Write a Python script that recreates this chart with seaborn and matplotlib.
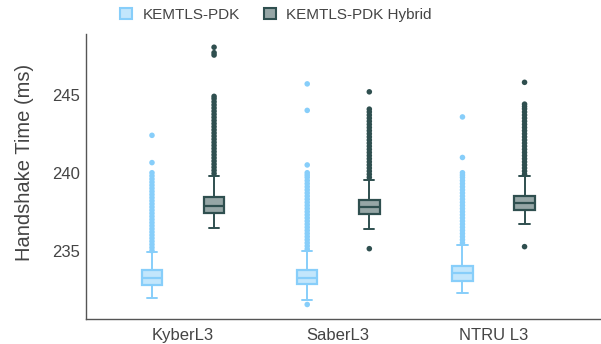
import numpy as np
import pandas as pd
import matplotlib
matplotlib.use("Agg")
import matplotlib.pyplot as plt
from matplotlib.patches import Patch
import seaborn as sns

# ---------------- data ----------------
categories = ["KyberL3", "SaberL3", "NTRU L3"]
series = ["KEMTLS-PDK", "KEMTLS-PDK Hybrid"]

# box summaries: [lower whisker, Q1, median, Q3, upper whisker]
kyber_pdk_box = [231.96, 232.80, 233.24, 233.74, 234.90]
kyber_hyb_box = [236.48, 237.42, 237.87, 238.45, 239.80]
saber_pdk_box = [231.81, 232.88, 233.27, 233.78, 234.98]
saber_hyb_box = [236.42, 237.33, 237.83, 238.25, 239.52]
ntru_pdk_box = [232.26, 233.05, 233.55, 234.01, 235.36]
ntru_hyb_box = [236.69, 237.59, 238.04, 238.49, 239.76]

# outlier points
kyber_pdk_out = [235.0, 235.2, 235.4, 235.6, 235.8, 236.0, 236.2, 236.4, 236.6, 236.8,
                 237.0, 237.2, 237.4, 237.6, 237.8, 238.0, 238.2, 238.4, 238.6, 238.8,
                 239.0, 239.2, 239.4, 239.6, 239.8, 240.0, 240.65, 242.4]
kyber_hyb_out = [239.95, 240.15, 240.35, 240.55, 240.75, 240.95, 241.15, 241.35, 241.55,
                 241.75, 241.95, 242.15, 242.35, 242.55, 242.75, 242.95, 243.15, 243.35,
                 243.55, 243.75, 243.95, 244.15, 244.35, 244.55, 244.75, 244.9,
                 247.55, 247.7, 248.05]
saber_pdk_out = [231.55, 235.1, 235.3, 235.5, 235.7, 235.9, 236.1, 236.3, 236.5, 236.7,
                 236.9, 237.1, 237.3, 237.5, 237.7, 237.9, 238.1, 238.3, 238.5, 238.7,
                 238.9, 239.1, 239.3, 239.5, 239.7, 239.85, 240.0, 240.5, 244.0, 245.7]
saber_hyb_out = [235.13, 239.7, 239.9, 240.1, 240.3, 240.5, 240.7, 240.9, 241.1, 241.3,
                 241.5, 241.7, 241.9, 242.1, 242.3, 242.5, 242.7, 242.9, 243.1, 243.3,
                 243.5, 243.7, 243.9, 244.08, 245.19]
ntru_pdk_out = [235.5, 235.7, 235.9, 236.1, 236.3, 236.5, 236.7, 236.9, 237.1, 237.3,
                237.5, 237.7, 237.9, 238.1, 238.3, 238.5, 238.7, 238.9, 239.1, 239.3,
                239.5, 239.7, 239.85, 240.0, 240.98, 243.58]
ntru_hyb_out = [235.26, 239.9, 240.1, 240.3, 240.5, 240.7, 240.9, 241.1, 241.3, 241.5,
                241.7, 241.9, 242.1, 242.3, 242.5, 242.7, 242.9, 243.1, 243.3, 243.5,
                243.7, 243.9, 244.1, 244.25, 244.4, 245.8]

y_ticks = [235, 240, 245]
y_label = "Handshake Time (ms)"

colors = {"KEMTLS-PDK": "#87CEFA", "KEMTLS-PDK Hybrid": "#2F4F4F"}

# ---------------- tables ----------------
box_sets = {
    ("KyberL3", "KEMTLS-PDK"): kyber_pdk_box,
    ("KyberL3", "KEMTLS-PDK Hybrid"): kyber_hyb_box,
    ("SaberL3", "KEMTLS-PDK"): saber_pdk_box,
    ("SaberL3", "KEMTLS-PDK Hybrid"): saber_hyb_box,
    ("NTRU L3", "KEMTLS-PDK"): ntru_pdk_box,
    ("NTRU L3", "KEMTLS-PDK Hybrid"): ntru_hyb_box,
}
out_sets = {
    ("KyberL3", "KEMTLS-PDK"): kyber_pdk_out,
    ("KyberL3", "KEMTLS-PDK Hybrid"): kyber_hyb_out,
    ("SaberL3", "KEMTLS-PDK"): saber_pdk_out,
    ("SaberL3", "KEMTLS-PDK Hybrid"): saber_hyb_out,
    ("NTRU L3", "KEMTLS-PDK"): ntru_pdk_out,
    ("NTRU L3", "KEMTLS-PDK Hybrid"): ntru_hyb_out,
}
box_df = pd.DataFrame([(c, s, v) for (c, s), vals in box_sets.items() for v in vals],
                      columns=["scheme", "mode", "time"])
out_df = pd.DataFrame([(c, s, v) for (c, s), vals in out_sets.items() for v in vals],
                      columns=["scheme", "mode", "time"])

# ---------------- plot ----------------
sns.set_theme(style="white")
plt.rcParams["font.family"] = ["Liberation Sans", "DejaVu Sans"]

text_col = "#444444"
fig = plt.figure(figsize=(6.01, 3.44), dpi=100)
ax = fig.add_axes([0.1431, 0.0718, 0.8555, 0.8294])

for s in series:
    c = colors[s]
    face = matplotlib.colors.to_rgba(c, 0.5)
    sns.boxplot(data=box_df[box_df["mode"] == s], x="scheme", y="time", hue="mode",
                order=categories, hue_order=series, palette=colors, dodge=True,
                whis=(0, 100), showfliers=False, width=0.8, gap=0.67,
                saturation=1, linewidth=1.5, linecolor=c, legend=False, ax=ax,
                boxprops=dict(facecolor=face, edgecolor=c, linewidth=1.6),
                medianprops=dict(color=c, linewidth=1.6),
                whiskerprops=dict(color=c, linewidth=1.4),
                capprops=dict(color=c, linewidth=1.4))

sns.stripplot(data=out_df, x="scheme", y="time", hue="mode", order=categories,
              hue_order=series, palette=colors, dodge=True, jitter=False,
              size=4.0, linewidth=0, legend=False, ax=ax)

ax.set_xlim(-0.625, 2.687)
ax.set_ylim(230.6, 248.9)
ax.set_yticks(y_ticks)
ax.set_xlabel("")
ax.set_ylabel(y_label, fontsize=14.5, color=text_col)
ax.yaxis.set_label_coords(-0.101, 0.55)
ax.tick_params(axis="both", length=0, labelsize=12, colors=text_col)
ax.tick_params(axis="x", pad=6)
ax.tick_params(axis="y", pad=4)
for side in ["top", "right"]:
    ax.spines[side].set_visible(False)
for side in ["left", "bottom"]:
    ax.spines[side].set_color("#555555")
    ax.spines[side].set_linewidth(1.0)

handles = [Patch(facecolor=matplotlib.colors.to_rgba(colors[s], 0.5),
                 edgecolor=colors[s], linewidth=1.5, label=s) for s in series]
fig.legend(handles=handles, loc="center", bbox_to_anchor=(276 / 601, 1 - 15 / 344),
           ncol=2, frameon=False, fontsize=11, handlelength=0.75, handleheight=0.75,
           handletextpad=0.7, columnspacing=1.6, labelcolor=text_col)

fig.savefig("out.png", dpi=100, facecolor="white")
